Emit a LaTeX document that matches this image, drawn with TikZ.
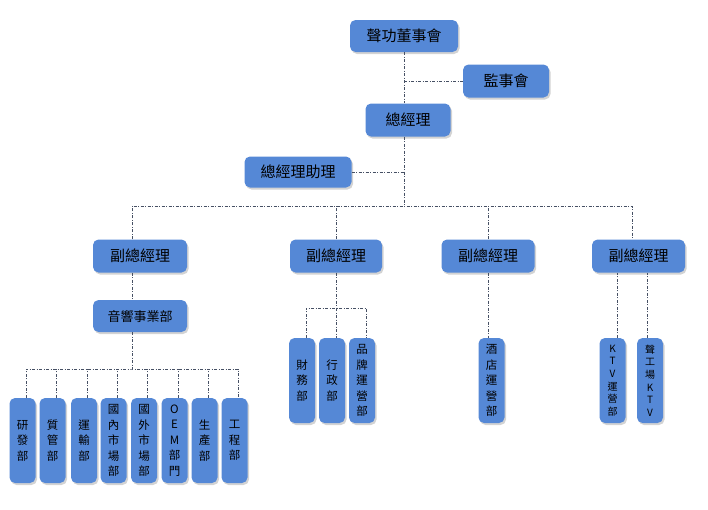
\documentclass[tikz,border=0pt]{standalone}
\usepackage{fontspec}
\newfontfamily\cjk{Noto Sans CJK TC}
\usetikzlibrary{shadows}
\definecolor{boxblue}{RGB}{85,136,214}
\definecolor{linegray}{RGB}{70,80,100}
\tikzset{
  box/.style={fill=boxblue, rounded corners=5.5pt, inner sep=0pt, text=black,
    font=\cjk\fontsize{15}{15}\selectfont,
    drop shadow={shadow xshift=1.5pt, shadow yshift=-2pt, opacity=0.35}},
  vbox/.style={box, minimum width=26pt, minimum height=85pt, align=center,
    font=\cjk\fontsize{11.5}{15.5}\selectfont},
  vboxs/.style={vbox, font=\cjk\fontsize{10}{12.6}\selectfont},
  link/.style={draw=linegray, line width=0.5pt,
    dash pattern=on 3pt off 1.5pt on 1pt off 1.5pt}
}
\begin{document}
\begin{tikzpicture}[x=1pt,y=-1pt]
\useasboundingbox (0,0) rectangle (708,509);

\node[box, minimum width=108pt, minimum height=32pt] (dsh) at (404,36) {聲功董事會};
\node[box, minimum width=86pt, minimum height=33pt] (jsh) at (506,81) {監事會};
\node[box, minimum width=85pt, minimum height=33pt] (zjl) at (408,120) {總經理};
\node[box, minimum width=107pt, minimum height=31pt] (zl) at (298,172) {總經理助理};

\node[box, minimum width=94pt, minimum height=33pt] (fA) at (140,256) {副總經理};
\node[box, minimum width=92pt, minimum height=33pt] (fB) at (336,256) {副總經理};
\node[box, minimum width=93pt, minimum height=33pt] (fC) at (488,256) {副總經理};
\node[box, minimum width=93pt, minimum height=33pt] (fD) at (638.5,256) {副總經理};

\node[box, minimum width=94pt, minimum height=32pt, font=\cjk\fontsize{13}{13}\selectfont] (yx) at (140,316) {音響事業部};

\node[vbox] (b1) at (22.5,440.5) {研\\發\\部};
\node[vbox] (b2) at (52.5,440.5) {質\\管\\部};
\node[vbox] (b3) at (84,440.5) {運\\輸\\部};
\node[vbox] (b4) at (113.5,440.5) {國\\內\\市\\場\\部};
\node[vbox] (b5) at (144,440.5) {國\\外\\市\\場\\部};
\node[vbox] (b6) at (174.5,440.5) {O\\E\\M\\部\\門};
\node[vbox] (b7) at (204.5,440.5) {生\\產\\部};
\node[vbox] (b8) at (234.5,440.5) {工\\程\\部};

\node[vbox] (m1) at (302,380.5) {財\\務\\部};
\node[vbox] (m2) at (332,380.5) {行\\政\\部};
\node[vbox] (m3) at (362,380.5) {品\\牌\\運\\營\\部};

\node[vbox] (hotel) at (491.5,380.5) {酒\\店\\運\\營\\部};

\node[vboxs] (ktv) at (612.5,380.5) {K\\T\\V\\運\\營\\部};
\node[vboxs] (sgc) at (650,380.5) {聲\\工\\場\\K\\T\\V};

\coordinate (bus) at (404,206);
\coordinate (sbA) at (132,369);
\coordinate (sbB) at (336,308);

\draw[link] (dsh.south) -- (dsh.south |- zjl.north);
\draw[link] (jsh.west -| dsh.south) -- (jsh.west);
\draw[link] (zjl.south -| dsh.south) -- (bus);
\draw[link] (zl.east) -- (zl.east -| dsh.south);

\draw[link] ([xshift=-8pt]fA.north) |- (bus) -| ([xshift=-6.5pt]fD.north);
\draw[link] (fB.north) -- (fB.north |- bus);
\draw[link] (fC.north) -- (fC.north |- bus);

\draw[link] ([xshift=-8pt]fA.south) -- ([xshift=-8pt]yx.north);
\draw[link] ([xshift=-8pt]yx.south) -- (sbA);
\draw[link] ([xshift=3.5pt]b1.north) |- (sbA) -| ([xshift=3.5pt]b8.north);
\foreach \i in {2,...,7}
  \draw[link] ([xshift=3.5pt]b\i.north) -- ([xshift=3.5pt]b\i.north |- sbA);

\draw[link] (fB.south) -- (sbB);
\draw[link] ([xshift=4pt]m1.north) |- (sbB) -| ([xshift=4pt]m3.north);
\draw[link] (sbB) -- ([xshift=4pt]m2.north);

\draw[link] (fC.south) -- (fC.south |- hotel.north);

\draw[link] ([xshift=4.5pt]ktv.north) -- ([xshift=4.5pt]ktv.north |- fD.south);
\draw[link] ([xshift=-3pt]sgc.north) -- ([xshift=-3pt]sgc.north |- fD.south);
\end{tikzpicture}
\end{document}
